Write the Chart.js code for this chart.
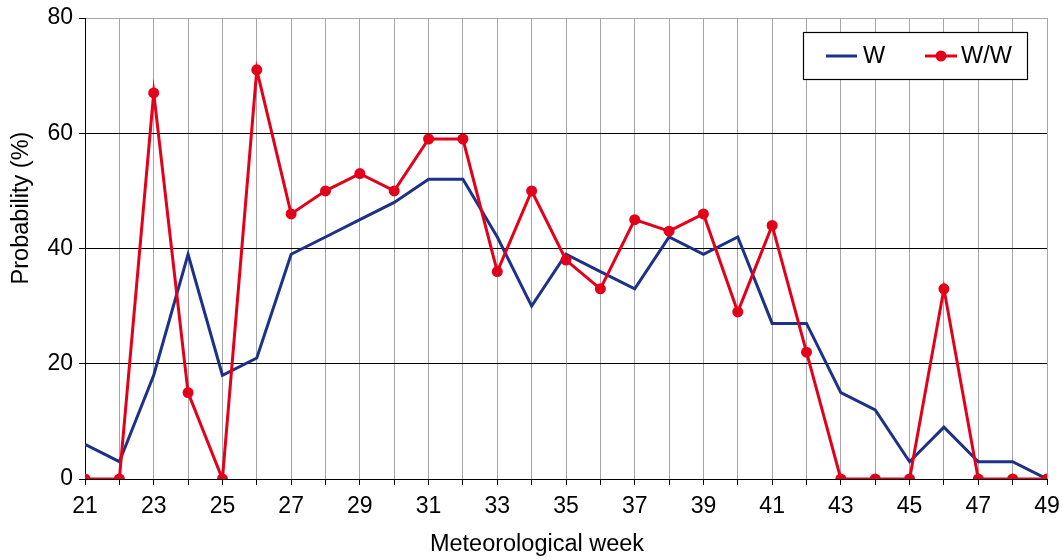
<!DOCTYPE html>
<html>
<head>
<meta charset="utf-8">
<script src="https://cdn.jsdelivr.net/npm/chart.js@4/dist/chart.umd.min.js"></script>
<style>
    body { margin: 0; background: #fff; }
    #wrap { width: 1062px; height: 559px; }
</style>
</head>
<body>
<div id="wrap"><canvas id="chart" width="1062" height="559"></canvas></div>
<script>
// Data
const weeks = [21, 22, 23, 24, 25, 26, 27, 28, 29, 30, 31, 32, 33, 34, 35,
               36, 37, 38, 39, 40, 41, 42, 43, 44, 45, 46, 47, 48, 49];
const wValues  = [6, 3, 18, 39, 18, 21, 39, 42, 45, 48, 52, 52, 42, 30, 39,
                  36, 33, 42, 39, 42, 27, 27, 15, 12, 3, 9, 3, 3, 0];
const wwValues = [0, 0, 67, 15, 0, 71, 46, 50, 53, 50, 59, 59, 36, 50, 38,
                  33, 45, 43, 46, 29, 44, 22, 0, 0, 0, 33, 0, 0, 0];
const yTicks = [0, 20, 40, 60, 80];
const xTitle = 'Meteorological week';
const yTitle = 'Probability (%)';

const BLUE = '#1d3189';
const RED = '#e2001a';
const FONT = 'Liberation Sans, Arial, sans-serif';

// Axis titles sit a bit off-centre in the original, so draw them here
const axisTitles = {
    id: 'axisTitles',
    afterDraw(chart) {
        const ctx = chart.ctx;
        ctx.save();
        ctx.fillStyle = '#000';
        ctx.font = '23.5px ' + FONT;
        ctx.textAlign = 'center';
        ctx.textBaseline = 'middle';
        ctx.fillText(xTitle, 537, 545);
        ctx.translate(22, 208);
        ctx.rotate(-Math.PI / 2);
        ctx.fillText(yTitle, 0, 0);
        ctx.restore();
    }
};

// Boxed legend drawn inside the plot, top right
const boxLegend = {
    id: 'boxLegend',
    afterDraw(chart) {
        const ctx = chart.ctx;
        ctx.save();
        ctx.fillStyle = '#fff';
        ctx.fillRect(803, 32, 224, 47);
        ctx.strokeStyle = '#000';
        ctx.lineWidth = 1.2;
        ctx.strokeRect(803.5, 32.5, 224, 47);

        ctx.lineWidth = 3;
        ctx.strokeStyle = BLUE;
        ctx.beginPath();
        ctx.moveTo(826, 56);
        ctx.lineTo(857, 56);
        ctx.stroke();

        ctx.strokeStyle = RED;
        ctx.beginPath();
        ctx.moveTo(925, 56);
        ctx.lineTo(957, 56);
        ctx.stroke();
        ctx.fillStyle = RED;
        ctx.beginPath();
        ctx.arc(941, 56, 5.5, 0, Math.PI * 2);
        ctx.fill();

        ctx.fillStyle = '#000';
        ctx.font = '23.5px ' + FONT;
        ctx.textBaseline = 'middle';
        ctx.fillText(chart.data.datasets[1].label, 863, 57);
        ctx.fillText(chart.data.datasets[0].label, 961, 57);
        ctx.restore();
    }
};

const ctx = document.getElementById('chart').getContext('2d');
const chart = new Chart(ctx, {
    type: 'line',
    data: {
        datasets: [{
            label: 'W/W',
            data: weeks.map((w, i) => ({ x: w, y: wwValues[i] })),
            borderColor: RED,
            backgroundColor: RED,
            borderWidth: 3,
            pointRadius: 5.5,
            pointBorderWidth: 0,
            pointBackgroundColor: RED,
            tension: 0,
            order: 1
        }, {
            label: 'W',
            data: weeks.map((w, i) => ({ x: w, y: wValues[i] })),
            borderColor: BLUE,
            backgroundColor: BLUE,
            borderWidth: 3,
            pointRadius: 0,
            tension: 0,
            order: 2
        }]
    },
    options: {
        responsive: false,
        animation: false,
        devicePixelRatio: 1,
        layout: { padding: { top: 18, right: 15, left: 0, bottom: 0 } },
        plugins: {
            legend: { display: false },
            tooltip: { enabled: false }
        },
        scales: {
            x: {
                type: 'linear',
                min: 21,
                max: 49,
                afterFit: scale => {
                    scale.height = 80;
                    scale.paddingLeft = 0;
                    scale.paddingRight = 0;
                },
                afterBuildTicks: scale => {
                    scale.ticks = weeks.map(w => ({ value: w }));
                },
                ticks: {
                    autoSkip: false,
                    maxRotation: 0,
                    padding: 8,
                    color: '#000',
                    font: { family: FONT, size: 23 },
                    callback: v => (v % 2 === 1 ? String(v) : '')
                },
                grid: {
                    color: '#a6a6a6',
                    lineWidth: 1,
                    tickColor: '#000',
                    tickLength: 6
                },
                border: { color: '#000', width: 1 }
            },
            y: {
                min: 0,
                max: 80,
                afterFit: scale => {
                    scale.width = 85;
                    scale.paddingTop = 0;
                    scale.paddingBottom = 0;
                },
                afterBuildTicks: scale => {
                    scale.ticks = yTicks.map(v => ({ value: v }));
                },
                ticks: {
                    padding: 6,
                    color: '#000',
                    font: { family: FONT, size: 23 }
                },
                grid: {
                    color: c => (c.tick && c.tick.value === 80 ? '#a6a6a6' : '#000'),
                    lineWidth: 1,
                    tickColor: '#000',
                    tickLength: 6
                },
                border: { color: '#000', width: 1 }
            }
        }
    },
    plugins: [axisTitles, boxLegend]
});
</script>
</body>
</html>
